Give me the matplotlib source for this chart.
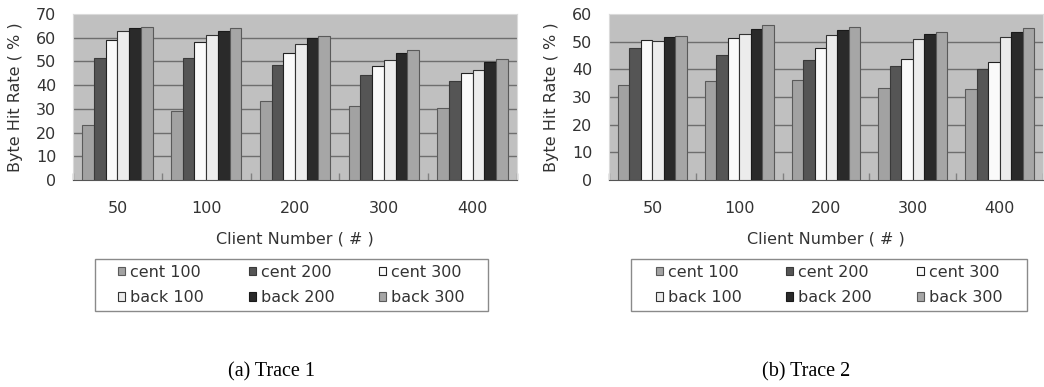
import numpy as np
import matplotlib
matplotlib.use("Agg")
import matplotlib.pyplot as plt
from matplotlib.patches import Rectangle

# ---- data ----
clients = ["50", "100", "200", "300", "400"]
series = ["cent 100", "cent 200", "cent 300", "back 100", "back 200", "back 300"]

trace1 = {
    "cent 100": [23.2, 29.1, 33.3, 31.3, 30.2],
    "cent 200": [51.6, 51.6, 48.5, 44.3, 41.6],
    "cent 300": [59.0, 58.1, 53.4, 48.2, 45.1],
    "back 100": [63.0, 61.3, 57.2, 50.6, 46.5],
    "back 200": [64.0, 63.0, 59.7, 53.4, 49.8],
    "back 300": [64.4, 64.0, 60.9, 54.7, 51.2],
}
trace2 = {
    "cent 100": [34.3, 35.7, 36.0, 33.3, 32.9],
    "cent 200": [47.8, 45.1, 43.5, 41.1, 40.0],
    "cent 300": [50.5, 51.2, 47.7, 43.7, 42.8],
    "back 100": [50.1, 52.9, 52.5, 50.8, 51.7],
    "back 200": [51.7, 54.7, 54.1, 52.7, 53.6],
    "back 300": [52.2, 56.1, 55.3, 53.6, 54.8],
}

colors = ["#a2a2a2", "#555555", "#fafafa", "#ececec", "#2a2a2a", "#a6a6a6"]
edges = ["#5a5a5a", "#3a3a3a", "#222222", "#333333", "#1a1a1a", "#5a5a5a"]

plt.rcParams['font.family'] = ['DejaVu Sans']
W, H = 1044, 387
FS = 11.5
fig = plt.figure(figsize=(W / 100, H / 100), dpi=100)


def px(x0, y0, x1, y1):
    # pixel box -> figure fraction rect
    return [x0 / W, 1 - y1 / H, (x1 - x0) / W, (y1 - y0) / H]


def panel(rect, data, ymax, legbox, caption, cap_x):
    ax = fig.add_axes(rect)
    ax.set_facecolor("#c0c0c0")
    x = np.arange(len(clients))
    bw = 0.132
    handles = []
    for i, name in enumerate(series):
        off = (i - 2.5) * bw
        b = ax.bar(x + off, data[name], bw, color=colors[i], edgecolor=edges[i],
                   linewidth=0.8, zorder=3, label=name)
        handles.append(b)
    ax.set_xlim(-0.5, len(clients) - 0.5)
    ax.set_ylim(0, ymax)
    ax.set_yticks(np.arange(0, ymax + 1, 10))
    ax.set_xticks(x)
    ax.set_xticklabels(clients)
    ax.set_xticks(np.arange(-0.5, len(clients), 1), minor=True)
    ax.tick_params(axis="x", which="major", length=0, pad=15, labelsize=FS, colors="#333333")
    ax.tick_params(axis="x", which="minor", direction="in", length=5, color="#808080", width=1)
    ax.tick_params(axis="y", length=0, pad=12, labelsize=FS, colors="#333333")
    for v in range(10, ymax, 10):
        ax.axhline(v, color="#6e6e6e", lw=1, zorder=1)
    for s in ["top", "right", "left"]:
        ax.spines[s].set_color("#dadada")
    ax.spines["bottom"].set_color("#555555")
    ax.set_xlabel("Client Number ( # )", fontsize=FS, color="#333333", labelpad=11)
    ax.set_ylabel("Byte Hit Rate ( % )", fontsize=FS, color="#333333", labelpad=9)

    # legend: row-wise ordering in 3 columns
    order = [0, 3, 1, 4, 2, 5]
    bx0, by0, bx1, by1 = legbox
    fig.patches.append(Rectangle((bx0 / W, 1 - by1 / H), (bx1 - bx0) / W, (by1 - by0) / H,
                                 transform=fig.transFigure, fill=False,
                                 edgecolor="#8a8a8a", lw=1))
    fig.legend([handles[k] for k in order], [series[k] for k in order], ncol=3,
               loc="center", bbox_to_anchor=((bx0 + bx1) / 2 / W, 1 - (by0 + by1) / 2 / H),
               frameon=False, fontsize=FS, handlelength=0.45, handleheight=0.45,
               handletextpad=0.3, columnspacing=2.8, labelspacing=0.65,
               labelcolor="#333333")
    fig.text(cap_x / W, 1 - 372 / H, caption, ha="center", va="center",
             fontsize=14.5, family="Liberation Serif")
    return ax


panel(px(73, 14, 517, 180), trace1, 70, (95, 259, 488, 311), "(a) Trace 1", 271)
panel(px(609, 14, 1043, 180), trace2, 60, (631, 259, 1027, 311), "(b) Trace 2", 806)

fig.savefig("out.png", dpi=100)
